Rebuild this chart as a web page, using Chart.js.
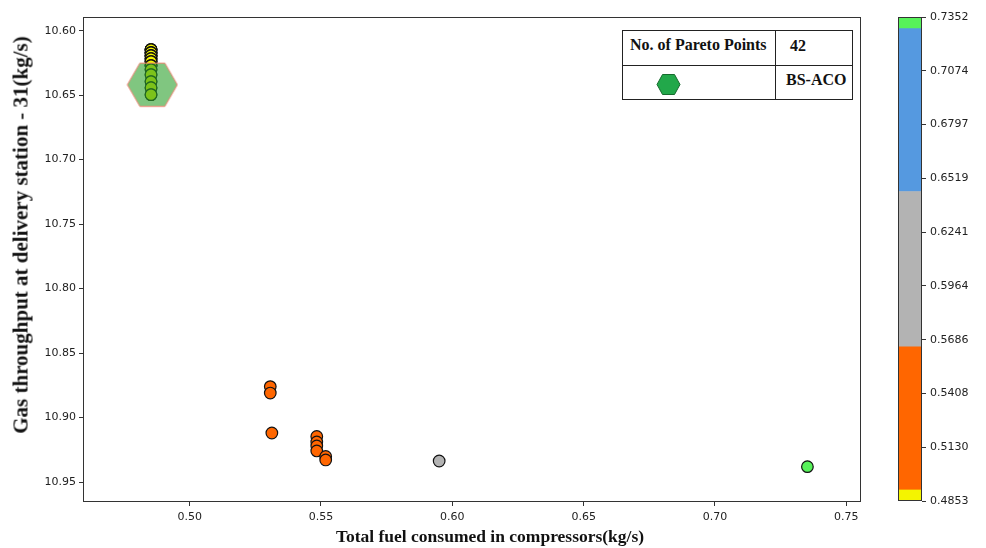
<!DOCTYPE html>
<html>
<head>
<meta charset="utf-8">
<script src="https://cdn.jsdelivr.net/npm/chart.js@4/dist/chart.umd.min.js"></script>
<style>
    body { margin: 0; background: #fff; width: 986px; height: 548px; overflow: hidden; position: relative; font-family: 'Liberation Serif', serif; }
    #main { position: absolute; left: 0; top: 0; }
    #cbar { position: absolute; left: 880px; top: 0; }
    .lbl { position: absolute; font-weight: bold; color: #111; white-space: nowrap; line-height: 1; }
    #leg { position: absolute; left: 622px; top: 30px; width: 229px; height: 68px; border: 1px solid #222; background: #fff; }
    #leg .t { position: absolute; font-size: 16px; font-weight: bold; color: #111; white-space: nowrap; line-height: 16px; }
</style>
</head>
<body>
<canvas id="main" width="986" height="548"></canvas>
<canvas id="cbar" width="106" height="548"></canvas>

<div class="lbl" style="left:490px;top:537px;font-size:17.5px;transform:translate(-50%,-50%)">Total fuel consumed in compressors(kg/s)</div>
<div class="lbl" style="left:21px;top:235px;font-size:21px;transform:translate(-50%,-50%) rotate(-90deg)">Gas throughput at delivery station - 31(kg/s)</div>

<div id="leg">
    <div style="position:absolute;left:0;top:34px;width:229px;height:1px;background:#222"></div>
    <div style="position:absolute;left:152px;top:0;width:1px;height:68px;background:#222"></div>
    <div class="t" style="left:7px;top:6px">No. of Pareto Points</div>
    <div class="t" style="left:167px;top:7px">42</div>
    <svg style="position:absolute;left:33px;top:42px" width="25" height="23">
        <polygon points="1,11.5 6.5,1.5 18.5,1.5 24,11.5 18.5,21.5 6.5,21.5" fill="#22a84a" stroke="#176b2e" stroke-width="1"/>
    </svg>
    <div class="t" style="left:163px;top:41px">BS-ACO</div>
</div>

<script>
document.addEventListener('DOMContentLoaded', function() {
    // 파레토 점: 압축기 연료 소비량 (x), 배송소 31 가스 처리량 (y)
    const fuelUsed = [
        0.4853, 0.4853, 0.4853, 0.4853, 0.4853, 0.4853, 0.4853, 0.4853, 0.4853, 0.4853,
        0.4853, 0.4853, 0.4853, 0.4853, 0.4853, 0.4853, 0.4853, 0.4853, 0.4853, 0.4853,
        0.4853, 0.4853, 0.4853, 0.4853, 0.4853, 0.4853, 0.4853, 0.4853, 0.4853, 0.4853,
        0.4853,
        0.5307, 0.5307, 0.5313, 0.5484, 0.5484, 0.5484, 0.5484, 0.5518, 0.5518,
        0.5950, 0.7352
    ];
    const throughput = [
        10.6147, 10.6147, 10.6147, 10.6147, 10.6171, 10.6171, 10.6171, 10.6171, 10.6194, 10.6194,
        10.6194, 10.6194, 10.6217, 10.6217, 10.6217, 10.6240, 10.6240, 10.6240, 10.6271, 10.6271,
        10.6271, 10.6302, 10.6302, 10.6341, 10.6341, 10.6395, 10.6395, 10.6442, 10.6442, 10.6496,
        10.6496,
        10.8760, 10.8810, 10.9120, 10.9147, 10.9189, 10.9220, 10.9259, 10.9302, 10.9329,
        10.9337, 10.9381
    ];

    // 육각형 표시 (BS-ACO)
    const hexX = [0.4858];
    const hexY = [10.6419];

    // 축 눈금
    const xTicks = [0.50, 0.55, 0.60, 0.65, 0.70, 0.75];
    const yTicks = [10.60, 10.65, 10.70, 10.75, 10.80, 10.85, 10.90, 10.95];

    // 컬러바 구간과 색
    const cbBounds = [0.4853, 0.4910, 0.5649, 0.6451, 0.7292, 0.7352];
    const cbColors = ['#f4f400', '#ff6600', '#b3b3b3', '#5599e0', '#57f25a'];
    const cbTicks = [0.4853, 0.5130, 0.5408, 0.5686, 0.5964, 0.6241, 0.6519, 0.6797, 0.7074, 0.7352];

    function colorFor(v) {
        for (let i = 0; i < cbColors.length; i++) {
            if (v < cbBounds[i + 1]) return cbColors[i];
        }
        return cbColors[cbColors.length - 1];
    }

    // 테두리 상자
    const boxPlugin = {
        id: 'box',
        afterDraw(chart) {
            const a = chart.chartArea, c = chart.ctx;
            c.save();
            c.strokeStyle = '#333';
            c.lineWidth = 1;
            c.strokeRect(Math.round(a.left) + 0.5, Math.round(a.top) + 0.5,
                Math.round(a.right - a.left) - 1, Math.round(a.bottom - a.top) - 1);
            c.restore();
        }
    };

    // 반투명 육각형 마커
    const hex = document.createElement('canvas');
    hex.width = 52; hex.height = 46;
    (function() {
        const g = hex.getContext('2d');
        const cx = 26, cy = 23, r = 25, h = r * Math.sqrt(3) / 2;
        g.beginPath();
        g.moveTo(cx - r, cy);
        g.lineTo(cx - r / 2, cy - h);
        g.lineTo(cx + r / 2, cy - h);
        g.lineTo(cx + r, cy);
        g.lineTo(cx + r / 2, cy + h);
        g.lineTo(cx - r / 2, cy + h);
        g.closePath();
        g.fillStyle = 'rgba(44, 160, 44, 0.6)';
        g.fill();
        g.strokeStyle = '#f08070';
        g.lineWidth = 1;
        g.stroke();
    })();

    const points = fuelUsed.map((x, i) => ({ x: x, y: throughput[i] }));

    const tickFont = { family: 'DejaVu Sans', size: 11 };

    new Chart(document.getElementById('main').getContext('2d'), {
        type: 'scatter',
        data: {
            datasets: [{
                data: hexX.map((x, i) => ({ x: x, y: hexY[i] })),
                pointStyle: hex,
                order: 0
            }, {
                data: points,
                pointRadius: 5.8,
                pointBorderWidth: 1.2,
                pointBorderColor: '#111',
                pointBackgroundColor: points.map(p => colorFor(p.x)),
                order: 1
            }]
        },
        options: {
            responsive: false,
            animation: false,
            devicePixelRatio: 1,
            layout: { padding: { left: 0, top: 17, right: 125, bottom: 0 } },
            plugins: { legend: { display: false }, tooltip: { enabled: false } },
            scales: {
                x: {
                    type: 'linear',
                    min: 0.4594,
                    max: 0.7556,
                    afterBuildTicks: s => { s.ticks = xTicks.map(v => ({ value: v })); },
                    afterFit: s => { s.height = 46; },
                    border: { display: false },
                    grid: { drawOnChartArea: false, tickLength: 4, tickColor: '#333' },
                    ticks: { font: tickFont, color: '#222', padding: 5, maxRotation: 0,
                        callback: v => v.toFixed(2) }
                },
                y: {
                    type: 'linear',
                    reverse: true,
                    min: 10.5894,
                    max: 10.9655,
                    afterBuildTicks: s => { s.ticks = yTicks.map(v => ({ value: v })); },
                    afterFit: s => { s.width = 83; },
                    border: { display: false },
                    grid: { drawOnChartArea: false, tickLength: 4, tickColor: '#333' },
                    ticks: { font: tickFont, color: '#222', padding: 3,
                        callback: v => v.toFixed(2) }
                }
            }
        },
        plugins: [boxPlugin]
    });

    // 컬러바
    new Chart(document.getElementById('cbar').getContext('2d'), {
        type: 'bar',
        data: {
            labels: [''],
            datasets: cbColors.map((c, i) => ({
                data: [[cbBounds[i], cbBounds[i + 1]]],
                backgroundColor: c,
                borderWidth: 0,
                grouped: false,
                categoryPercentage: 1,
                barPercentage: 1
            }))
        },
        options: {
            responsive: false,
            animation: false,
            devicePixelRatio: 1,
            layout: { padding: { left: 18, top: 17, right: 0, bottom: 47 } },
            plugins: { legend: { display: false }, tooltip: { enabled: false } },
            scales: {
                x: { display: false },
                y: {
                    position: 'right',
                    min: cbTicks[0],
                    max: cbTicks[cbTicks.length - 1],
                    afterBuildTicks: s => { s.ticks = cbTicks.map(v => ({ value: v })); },
                    afterFit: s => { s.width = 64; },
                    border: { display: false },
                    grid: { drawOnChartArea: false, tickLength: 4, tickColor: '#333' },
                    ticks: { font: tickFont, color: '#222', padding: 4,
                        callback: v => v.toFixed(4) }
                }
            }
        },
        plugins: [boxPlugin]
    });
});
</script>
</body>
</html>
